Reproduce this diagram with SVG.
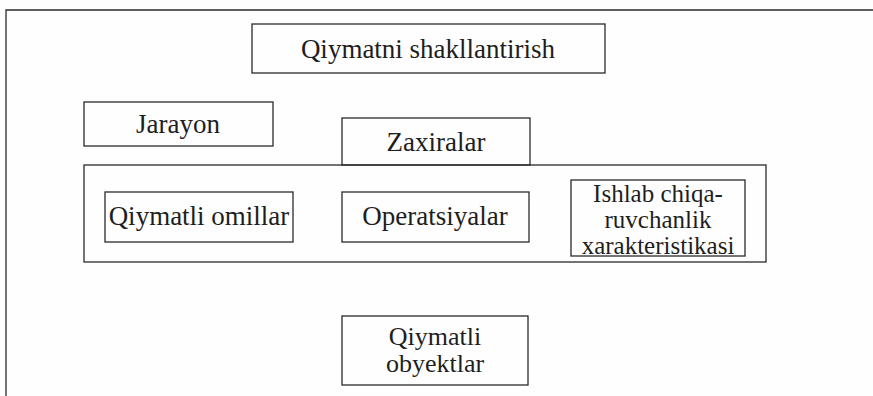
<svg xmlns="http://www.w3.org/2000/svg" width="873" height="396" viewBox="0 0 873 396">
<style>
.b{fill:none;stroke:#2a2a2a;stroke-width:1.3}
.t{font-family:"Liberation Serif","Times New Roman",serif;font-size:27px;fill:#1e1e1e;text-anchor:middle}
.m{font-size:26px}
.s{font-size:25px}
</style>
<rect x="0" y="0" width="873" height="396" fill="#fefefe"/>
<g id="frame">
<path class="b" d="M6 396V10H873"/>
</g>
<g id="connectors"></g>
<g id="qiymatni">
<rect class="b" x="252" y="24" width="353" height="49"/>
<text class="t" x="428" y="58">Qiymatni shakllantirish</text>
</g>
<g id="jarayon">
<rect class="b" x="84" y="102" width="189" height="44"/>
<text class="t" x="178" y="133">Jarayon</text>
</g>
<g id="zaxiralar">
<rect class="b" x="342" y="118" width="188" height="47"/>
<text class="t" x="436" y="151">Zaxiralar</text>
</g>
<g id="container">
<rect class="b" x="84" y="165" width="682" height="97"/>
</g>
<g id="omillar">
<rect class="b" x="105" y="192" width="188" height="50"/>
<text class="t" x="199" y="225">Qiymatli omillar</text>
</g>
<g id="operatsiyalar">
<rect class="b" x="342" y="192" width="187" height="50"/>
<text class="t" x="435" y="225">Operatsiyalar</text>
</g>
<g id="ishlab">
<rect class="b" x="571" y="180" width="174" height="76"/>
<text class="t s" x="658" y="202">Ishlab chiqa-</text>
<text class="t s" x="658" y="228">ruvchanlik</text>
<text class="t s" x="658" y="254">xarakteristikasi</text>
</g>
<g id="obyektlar">
<rect class="b" x="342" y="316" width="186" height="69"/>
<text class="t m" x="435" y="345">Qiymatli</text>
<text class="t m" x="435" y="372">obyektlar</text>
</g>
</svg>
